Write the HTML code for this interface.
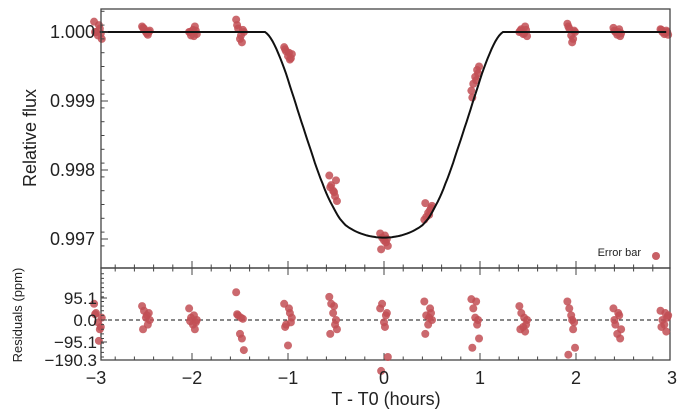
<!DOCTYPE html>
<html><head><meta charset="utf-8">
<style>
html,body{margin:0;padding:0;background:#fff;}
svg{display:block;font-family:"Liberation Sans",Arial,sans-serif;}
</style></head>
<body>
<svg id="chart" width="687" height="414" viewBox="0 0 687 414" xmlns="http://www.w3.org/2000/svg">
<rect x="0" y="0" width="687" height="414" fill="#fff"/>
<g id="top"></g>
<g id="bot"></g>
<text x="36" y="138" font-size="18" fill="#222" text-anchor="middle" transform="rotate(-90 36 138)">Relative flux</text>
<text x="22" y="315" font-size="13" fill="#222" text-anchor="middle" transform="rotate(-90 22 315)">Residuals (ppm)</text>
<text x="386" y="405" font-size="18" fill="#222" text-anchor="middle">T - T0 (hours)</text>
<text x="641" y="256" font-size="11" fill="#222" text-anchor="end">Error bar</text>
<circle cx="656" cy="256" r="4" fill="#c24f55" opacity="0.9"/>
</svg>
<script>
// data
const groupCenters = [-2.98,-2.48,-1.99,-1.5,-1.0,-0.53,0.0,0.46,0.95,1.45,1.95,2.43,2.92];
const groupOffsets = [-0.04,-0.02,0.0,0.02,0.04,-0.03,0.01,0.03];
const fluxValues = [
 [1.00015,1.0,0.99995,1.00005,0.9999,1.0,1.0001,0.99998],
 [1.00008,1.00005,1.0,0.99996,1.00002,1.00006,0.99998,1.0],
 [1.0,0.99995,1.00003,1.00008,0.99997,1.0,0.99994,1.00002],
 [1.00018,1.00005,0.9999,0.99985,1.0,1.0001,0.99995,1.00003],
 [0.99978,0.99972,0.99965,0.9996,0.99968,0.99975,0.9997,0.99962],
 [0.99792,0.99778,0.9977,0.99762,0.99755,0.99775,0.99768,0.99785],
 [0.99708,0.99702,0.99698,0.99695,0.9969,0.99685,0.99705,0.997],
 [0.99728,0.99732,0.99738,0.99742,0.99748,0.99752,0.99735,0.99745],
 [0.99915,0.99925,0.99935,0.99945,0.9995,0.99905,0.9993,0.9994],
 [1.0,1.00004,0.99997,1.00008,0.99994,1.00002,0.99998,1.00003],
 [1.00012,1.00005,0.99995,0.9999,1.0,1.00008,0.99985,1.00002],
 [1.00006,1.0,0.99996,1.00004,0.99998,1.00002,1.0,0.99994],
 [1.00004,1.0,0.99997,1.00002,0.99996,1.00003,0.99999,1.0]
];
const residValues = [
 [70,30,-10,-40,10,25,-90,-30],
 [60,40,10,-20,0,-40,20,30],
 [50,10,-20,-40,0,-5,20,-10],
 [120,20,-60,-80,-130,25,10,5],
 [70,-20,-110,30,10,-30,50,-10],
 [100,70,30,-20,-40,-60,60,0],
 [50,70,-10,20,-160,-220,-30,30],
 [80,20,-20,50,0,-60,10,30],
 [90,50,10,-20,-80,-120,80,0],
 [60,30,-30,-50,0,-40,10,-20],
 [80,50,20,-40,-120,-150,0,-10],
 [50,-20,-60,20,-40,0,30,-80],
 [40,0,-20,-50,20,-30,30,10]
];
const xTicks = [-3,-2,-1,0,1,2,3];
const fluxTicks = [1.000,0.999,0.998,0.997];
const residTicks = [95.1,0.0,-95.1,-190.3];
const depth = 0.00298;

const NS="http://www.w3.org/2000/svg";
const L=101,R=670,T1=9,B1=268,B2=360;
const X=t=>384+96*t;
const Yf=f=>32+(1-f)*69000;
const Yr=v=>320-v*22/95.1;
function mk(p,tag,a){const e=document.createElementNS(NS,tag);for(const k in a)e.setAttribute(k,a[k]);p.appendChild(e);return e;}
const gTop=document.getElementById('top'),gBot=document.getElementById('bot');

const kk=0.15,bb0=0.81,vv=0.654,u1=0.4,u2=0.25;
function blocked(t){
  const cx=vv*t,cy=bb0;let s=0,n=24;
  for(let i=0;i<n;i++)for(let j=0;j<n;j++){
    const px=cx+kk*(2*(i+0.5)/n-1),py=cy+kk*(2*(j+0.5)/n-1);
    if((px-cx)**2+(py-cy)**2>kk*kk)continue;
    const r2=px*px+py*py;if(r2>=1)continue;
    const mu=Math.sqrt(1-r2);s+=1-u1*(1-mu)-u2*(1-mu)**2;
  }
  return s;
}
const b0=blocked(0);
let d="";
for(let t=-2.96;t<=2.96;t+=0.02){
  const f=1-depth*blocked(t)/b0;
  d+=(d?"L":"M")+X(t).toFixed(1)+","+Yf(f).toFixed(1);
}
fluxValues.forEach((arr,g)=>arr.forEach((f,i)=>{
  const c=mk(gTop,'circle',{cx:X(groupCenters[g]+groupOffsets[i]),cy:Yf(f),r:4,fill:'#c24f55',opacity:0.85});
  
  
}));
const model=mk(gTop,'path',{d:d,fill:'none',stroke:'#111',"stroke-width":2});



const zl=mk(gBot,'line',{x1:L,x2:R,y1:Yr(0),y2:Yr(0),stroke:'#111',"stroke-width":1,"stroke-dasharray":"4,3"});


residValues.forEach((arr,g)=>arr.forEach((r,i)=>{
  const c=mk(gBot,'circle',{cx:X(groupCenters[g]+groupOffsets[i]),cy:Yr(r),r:4,fill:'#c24f55',opacity:0.85});
  
  
}));

[[T1,B1],[B1,B2]].forEach(([a,b2])=>{
  const fr=mk(gTop,'rect',{x:L,y:a,width:R-L,height:b2-a,fill:'none',stroke:'#444',"stroke-width":1.3});
  
  
});
for(let i=-15;i<=15;i++){
  const t=i/5,x=X(t);if(x<L||x>R)continue;
  const major=i%5===0,len=major?7:3.5;
  mk(gTop,'line',{x1:x,x2:x,y1:B1,y2:B1-len,stroke:'#444'});
  mk(gTop,'line',{x1:x,x2:x,y1:B2,y2:B2-len,stroke:'#444'});
  mk(gTop,'line',{x1:x,x2:x,y1:B1,y2:B1+len,stroke:'#444'});
}
xTicks.forEach(t=>{
  const tx=mk(gBot,'text',{x:X(t),y:384,"font-size":18,fill:'#222',"text-anchor":"middle"});
  tx.textContent=(t<0?"\u2212":"")+Math.abs(t);
  
  
});
for(let i=0;i<=17;i++){
  const f=1.0003-i*0.0002;const y=Yf(f);if(y<T1||y>B1)continue;
  mk(gTop,'line',{x1:L,x2:L+3.5,y1:y,y2:y,stroke:'#444'});
}
fluxTicks.forEach(f=>{
  mk(gTop,'line',{x1:L,x2:L+7,y1:Yf(f),y2:Yf(f),stroke:'#444'});
  const tx=mk(gTop,'text',{x:L-6,y:Yf(f)+6,"font-size":18,fill:'#222',"text-anchor":"end"});
  tx.textContent=f.toFixed(3);
  
  
});
for(let v2=-180;v2<=210;v2+=20){const y=Yr(v2);if(y<B1||y>B2)continue;mk(gBot,'line',{x1:L,x2:L+3,y1:y,y2:y,stroke:'#444'});}
residTicks.forEach(r=>{
  const y=Math.min(Yr(r),B2);
  mk(gBot,'line',{x1:L,x2:L+6,y1:y,y2:y,stroke:'#444'});
  const tx=mk(gBot,'text',{x:L-4,y:y+6,"font-size":17,fill:'#222',"text-anchor":"end"});
  tx.textContent=(r<0?"\u2212":"")+Math.abs(r).toFixed(1);
  
  
});
</script>
</body></html>
